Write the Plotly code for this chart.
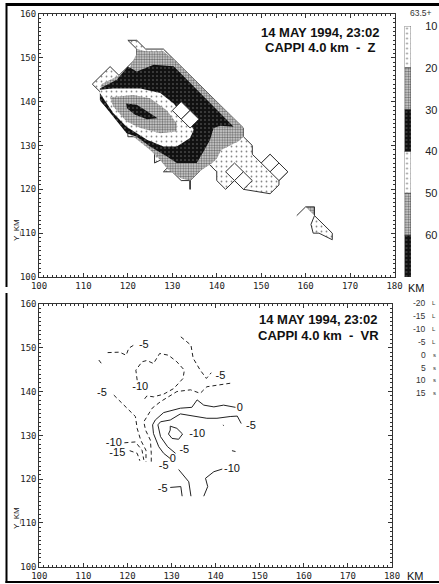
import plotly.graph_objects as go

W, H = 439, 584

# ---------- Reflectivity panel data (km) ----------
outer_x = [120,122,124,128,146,146,148,148,150,152,154,156,154,154,152,149,146,144,142,140,140,138,136,134,134,134,132,130,128,130,128,126,126,127,122,120,120,114,114,112,116,118,120,122,122,120]
outer_y = [154,154,152,152,134,132,130,128,126,128,126,124,122,121,119,119.5,120,122,120,122,124,126,124,122,120,122,122,124,124,126,127,126,128,129,132,132,134,140,142,144,148,146,148,150,152,154]
l2_x = [122,122,124,128,131,146,146,145,143,141,140,139,136,134,132,129,127,125,120,114,114,118,120]
l2_y = [151,152,151.5,151.5,149,134,132,131,130,129,127,126,124,122,122.5,124.5,127,129,133,140,144,146,147]
l3_x = [113.7,117.5,120,122,125.8,130.3,143.8,140.8,139.3,138.5,137,135.5,131,128.8,125,122,119.7,116.7,113.7]
l3_y = [143,145,148,146.9,148.4,148.1,134.3,134.5,134,131.3,128.6,126,126,127.5,129.8,132,132.8,136.6,140.4]
l4_x = [113.7,116.7,122.8,127.3,130.3,134,134.8,134,131,128,124.3,119.7,116.7,113.7]
l4_y = [142.7,143,143,142,139.6,135,133.6,131.7,129.8,129.8,131.3,134.3,137.4,142]
l5_x = [116,121.2,125,128.8,131,131,127.3,122.8,119.7,116.7]
l5_y = [141,141.5,140.8,138,135,133.2,132.8,134,135.5,138.9]
l6_x = [119.6,122,124.3,126.7,124.3,121.6,119.8]
l6_y = [139.6,139.3,137.8,136.2,136,137,138.5]
patch_l2_x = [160,162,162]
patch_l2_y = [116,116,114]
patch_l1_x = [162,166,166,163,161.7,161.2,162]
patch_l1_y = [114,110,108.5,110,110,112,114]
stub_x = [158,160]
stub_y = [114,116]
spike_x = [134,134]
spike_y = [122,120]
diamond_cx = [132,134,152,154,144,146]
diamond_cy = [138,136,126,124,124,122]
diamond_r = 2

# ---------- Colour scale data ----------
scale_levels = [10,20,30,40,50,60]
scale_step = 10
scale_tick_labels = ["10","20","30","40","50","60"]

# ---------- Radial velocity contours (km) ----------
dashed_contours = [
    ([113.5,114.1,113.6],[147.2,146.4,146.1]),
    ([115.5,118.2,119.7,120.3,121.4],[148.9,149,148.3,149.9,150.6]),
    ([122.2,121.9,123.3,124.4,125.9,127.3,129.3,131.2,132.9,132.6,130.5,128.2,125.9,124.4,123.7],[142.6,144.9,146.8,147.1,146.4,148.7,148.3,146.8,144.9,143,140.7,139.4,138.8,139,138.1]),
    ([132.1,134.4,134.9,136.5,137.9,139],[152.5,150.6,147.6,144.9,143,144.3]),
    ([116.9,119.5,121.8,122.2,123,124.2,124.2],[139.2,136.5,134.3,131.6,128.9,126.6,124]),
    ([125.4,125.4,125.2,124.1,123.7,125.6,127.5,131.2,134.3,136.5,138,143.3],[124,125.9,128.9,131.2,133.1,136.2,137.7,140,140.4,139.6,141.1,141.9]),
    ([119.3,121.8,123.3,123.7],[128.3,128.5,126.6,124.4]),
    ([120.5,122.2,122.8],[126.5,125.9,124.2]),
]
solid_contours = [
    ([144.5,141.8,139.6,137.3,135.8,134.6,132,128.2,126.3,125.7,125.9,127.1,128.2,129.7],[136.4,136.9,136.5,136.9,138.1,136.4,136.2,135.2,133.5,132.4,130.4,127.4,125.9,124.7]),
    ([145.8,144.9,143.3,140.3,138,135.8,132,129.7,127.5,126.9,127.5,129.1,130.9],[132.7,134.4,134.3,133.9,133.9,134.3,134.9,133.5,133.1,132.4,129.7,127.4,125.9]),
    ([129.7,131.2,132.5,131.6,130.1,129.3,129.7,129.7],[132.1,131.6,130.3,129.1,129.3,130.3,131.2,132.1]),
    ([131.6,133.9,134.4],[122.2,119.4,116.1]),
    ([137.3,138.2,137.7,139.6,141.5],[116.1,118.3,120.2,121.7,122.3]),
    ([129.7,132.1,132.4],[118.1,118.3,116.1]),
    ([141.7,141.8],[132.4,132.2]),
    ([143.7,144.5],[126.5,126.3]),
]
label_x = [123.7,141.1,114.2,122.9,145.5,148,135.8,132.9,130.3,128.2,143.7,128,116.9,117.7]
label_y = [150.6,143.6,139.7,141.1,136.3,132.1,130.3,126.5,124.5,123,122.3,117.8,128.3,125.9]
label_txt = ["-5","-5","-5","-10","0","-5","-10","-5","0","-5","-10","-5","-10","-15"]
vr_levels = ["-20","-15","-10","-5","0","5","10","15"]
vr_marks = ["L","L","L","L","s","s","s","s"]

# ---------- Styles ----------
SPARSE = dict(shape=".", fgcolor="#111", bgcolor="white", size=5, solidity=0.1)
DENSE = dict(shape=".", fgcolor="#000", bgcolor="#ddd", size=2.6, solidity=0.5)
DARK = dict(shape=".", fgcolor="#ccc", bgcolor="#111", size=4, solidity=0.12)
STYLES = [SPARSE, DENSE, DARK, SPARSE, DENSE, DARK]
LINE = "#333"
MONO = "DejaVu Sans Mono"
SANS = "Liberation Sans"

fig = go.Figure()


def poly(xs, ys, pattern, line=True):
    fig.add_trace(go.Scatter(
        x=xs, y=ys, mode="lines", fill="toself", fillcolor="white", fillpattern=pattern,
        line=dict(color=LINE if line else "rgba(0,0,0,0)", width=1), hoverinfo="skip", xaxis="x", yaxis="y"))


poly(outer_x, outer_y, SPARSE)
poly(l2_x, l2_y, DENSE, False)
poly(l3_x, l3_y, DARK, False)
poly(l4_x, l4_y, SPARSE, False)
poly(l5_x, l5_y, DENSE, False)
poly(l6_x, l6_y, DARK, False)
poly(patch_l1_x, patch_l1_y, SPARSE)
poly(patch_l2_x, patch_l2_y, DENSE)
for sx, sy in [(stub_x, stub_y), (spike_x, spike_y)]:
    fig.add_trace(go.Scatter(x=sx, y=sy, mode="lines", line=dict(color=LINE, width=1), xaxis="x", yaxis="y"))
for cx, cy in zip(diamond_cx, diamond_cy):
    r = diamond_r
    fig.add_trace(go.Scatter(
        x=[cx-r, cx, cx+r, cx, cx-r], y=[cy, cy+r, cy, cy-r, cy], mode="lines", fill="toself",
        fillcolor="white", line=dict(color=LINE, width=1), xaxis="x", yaxis="y"))

# colour scale
for lev, st in zip(scale_levels, STYLES):
    fig.add_trace(go.Bar(
        x=[0], y=[scale_step], base=[lev], width=[1], xaxis="x3", yaxis="y3",
        marker=dict(color=st["bgcolor"], pattern=st, line=dict(color=LINE, width=0.6))))

# velocity contours
for xs, ys in dashed_contours:
    fig.add_trace(go.Scatter(x=xs, y=ys, mode="lines", line=dict(color="#222", width=1, dash="4px,3px"), xaxis="x2", yaxis="y2"))
for xs, ys in solid_contours:
    fig.add_trace(go.Scatter(x=xs, y=ys, mode="lines", line=dict(color="#222", width=1), xaxis="x2", yaxis="y2"))
fig.add_trace(go.Scatter(x=label_x, y=label_y, text=label_txt, mode="text",
                         textfont=dict(family=SANS, size=11, color="#111"), xaxis="x2", yaxis="y2"))


def axis(**kw):
    return dict(showgrid=False, zeroline=False, showline=True, linecolor=LINE, linewidth=1, mirror="ticks",
                ticks="inside", ticklen=4, tickcolor=LINE, tickwidth=1,
                minor=dict(dtick=1, ticks="inside", ticklen=2, tickcolor=LINE, tickwidth=1),
                tickfont=dict(family=MONO, size=9, color="#222"), **kw)


def fx(p):
    return p / W


def fy(p):
    return 1 - p / H


layout = dict(
    width=W, height=H, margin=dict(l=0, r=0, t=0, b=0, autoexpand=False), paper_bgcolor="white", plot_bgcolor="white",
    showlegend=False, barmode="overlay",
    xaxis=axis(domain=[fx(39), fx(394.5)], range=[100, 180], dtick=10, anchor="y"),
    yaxis=axis(domain=[fy(277), fy(14)], range=[100, 160], dtick=10, anchor="x"),
    xaxis2=axis(domain=[fx(39.3), fx(392)], range=[100, 180], dtick=10, anchor="y2"),
    yaxis2=axis(domain=[fy(566.7), fy(304)], range=[100, 160], dtick=10, anchor="x2"),
    xaxis3=dict(domain=[fx(404.5), fx(411)], range=[-0.5, 0.5], visible=False, anchor="y3"),
    yaxis3=dict(domain=[fy(277), fy(26)], range=[70, 10], side="right", anchor="x3",
                showgrid=False, zeroline=False, showline=False, tickvals=scale_levels, ticktext=scale_tick_labels,
                ticks="outside", ticklen=11, tickcolor="rgba(0,0,0,0)",
                tickfont=dict(family=SANS, size=11, color="#222")),
)
fig.update_layout(**layout)

# frame bars
bars = [(6, 3, 439, 6), (5.5, 3, 7.5, 287), (5.5, 293, 7.5, 583), (5.5, 581, 439, 583)]
for x0, y0, x1, y1 in bars:
    fig.add_shape(type="rect", xref="paper", yref="paper", x0=fx(x0), x1=fx(x1), y0=fy(y0), y1=fy(y1),
                  fillcolor="black", line_width=0)


def note(txt, px, py, size, family=SANS, anchor="center", color="#111", angle=0):
    fig.add_annotation(text=txt, xref="paper", yref="paper", x=fx(px), y=fy(py), showarrow=False,
                       xanchor=anchor, yanchor="middle", textangle=angle, borderpad=0,
                       font=dict(family=family, size=size, color=color))


note("<b>14 MAY 1994, 23:02</b>", 320, 32, 13)
note("<b>CAPPI 4.0 km \u00a0-\u00a0 Z</b>", 320, 47, 13)
note("<b>14 MAY 1994, 23:02</b>", 318, 319, 13)
note("<b>CAPPI 4.0 km \u00a0-\u00a0 VR</b>", 318, 335, 13)
note("63.5+", 421, 13, 8.5, color="#333")
note("KM", 416, 287.5, 11)
note("KM", 415, 576, 11)
note("Y_KM", 16, 230, 8, angle=-90)
note("Y_KM", 16, 518, 8, angle=-90)
for i, (lev, mark) in enumerate(zip(vr_levels, vr_marks)):
    yy = 303.3 + i * 12.85
    note(lev, 427, yy, 8.5, anchor="right", color="#333")
    note(mark, 434, yy, 6, color="#333")

fig.write_html("out.html", config={"displayModeBar": False}, post_script="document.body.style.margin='0';")
